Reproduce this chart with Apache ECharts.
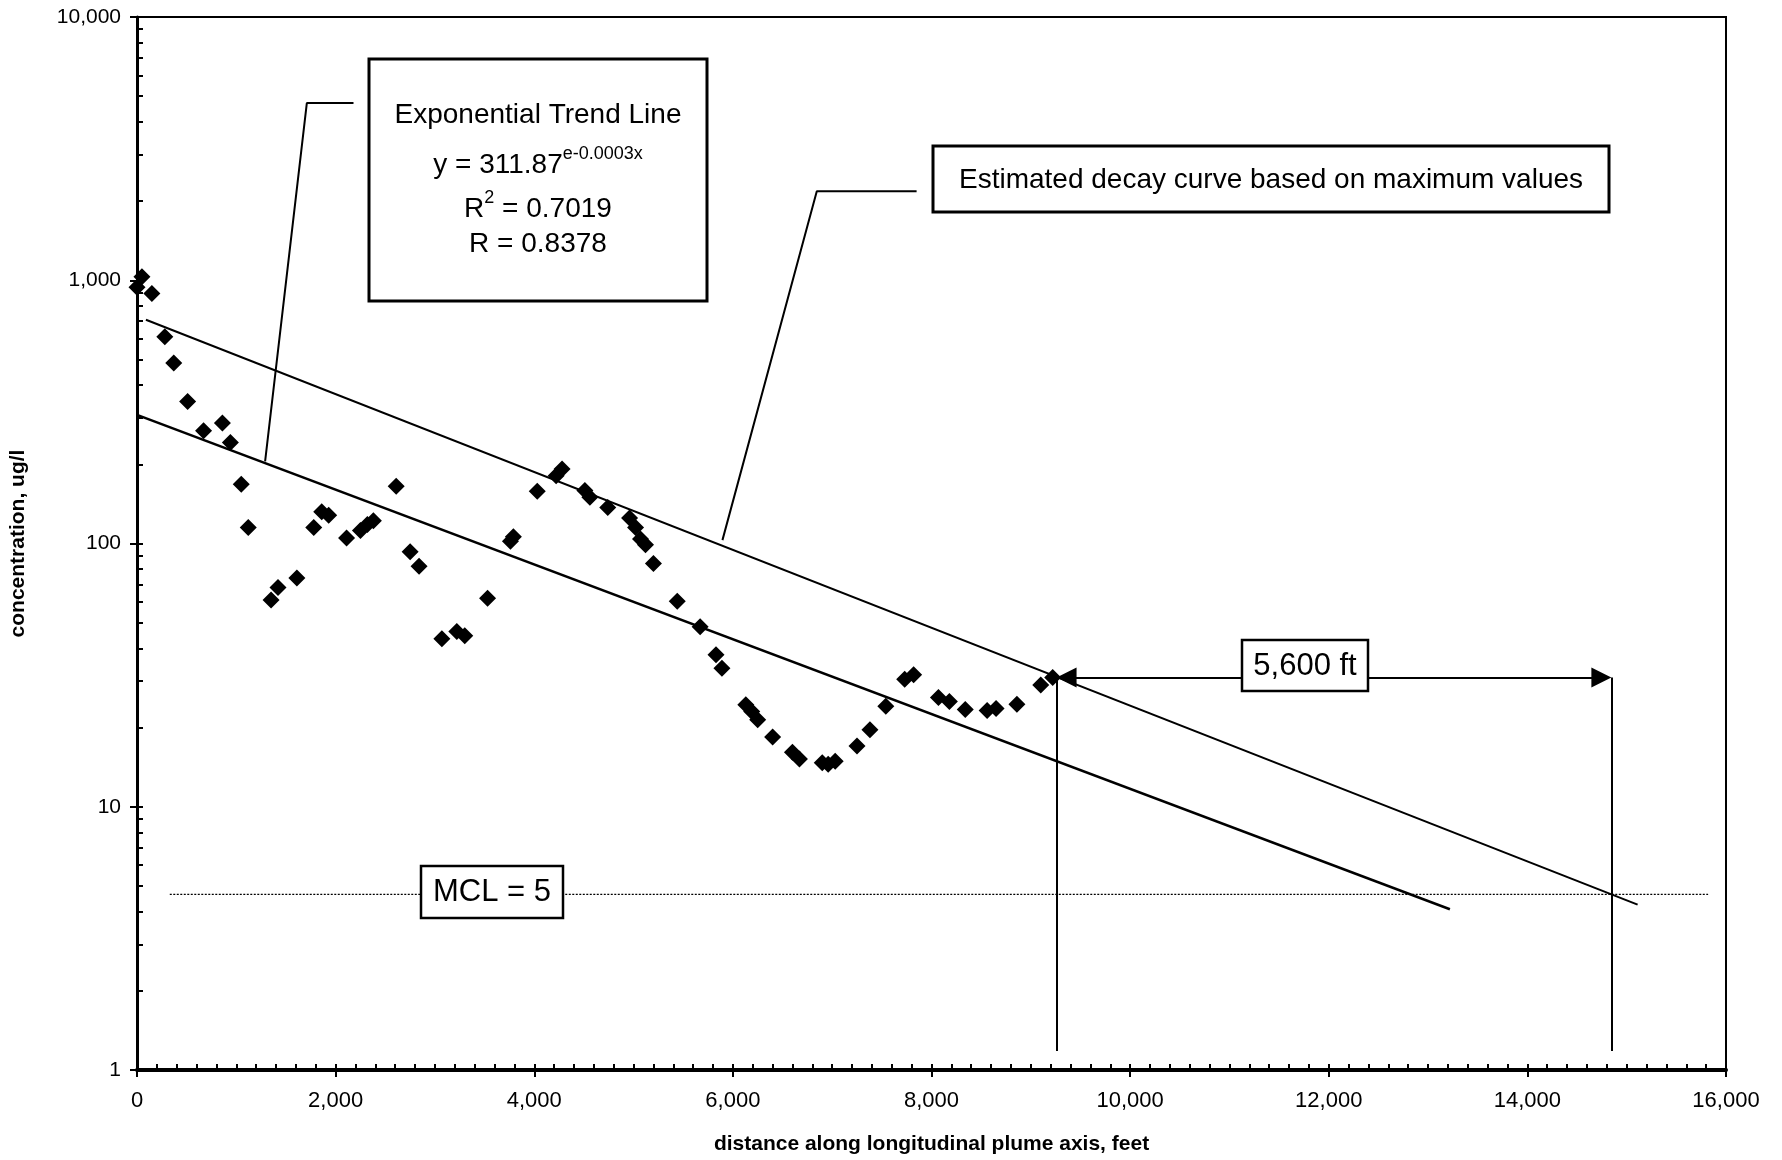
<!DOCTYPE html>
<html>
<head>
<meta charset="utf-8">
<style>
  html, body { margin: 0; padding: 0; background: #fff; }
  #chart { width: 1782px; height: 1160px; }
</style>
<script src="https://cdn.jsdelivr.net/npm/echarts@6/dist/echarts.min.js"></script>
</head>
<body>
<div id="chart"></div>
<script>
// sample points: distance along plume axis (ft) and concentration (ug/l)
const distFt = [0, 50, 150, 280, 370, 510, 670, 860, 940, 1050, 1120, 1350, 1420, 1610, 1780, 1860, 1930,
  2110, 2250, 2320, 2380, 2610, 2750, 2840, 3070, 3220, 3300, 3530, 3760, 3790, 4030, 4220, 4280, 4510,
  4560, 4740, 4960, 5020, 5070, 5120, 5200, 5440, 5670, 5830, 5890, 6130, 6190, 6250, 6400, 6600, 6670,
  6900, 6960, 7030, 7250, 7380, 7540, 7730, 7820, 8070, 8180, 8340, 8560, 8650, 8860, 9100, 9220];
const concUgL = [940, 1030, 890, 610, 485, 346, 268, 287, 242, 168, 115, 61, 68, 74, 115, 132, 128,
  105, 112, 118, 122, 165, 93, 82, 43.5, 46.3, 44.6, 62, 102, 106, 158, 181, 192, 159,
  150, 137, 125, 115, 104, 99, 84, 60.4, 48.3, 37.8, 33.6, 24.4, 23.0, 21.4, 18.4, 16.1, 15.2,
  14.7, 14.5, 14.9, 17.0, 19.6, 24.1, 30.5, 31.7, 26.0, 25.1, 23.4, 23.2, 23.6, 24.5, 29.0, 31.0];

// exponential trend line (end points as drawn)
const trendX = [0, 13220];
const trendY = [308, 4.08];

// estimated decay curve based on maximum values
const decayX = [90, 15110];
const decayY = [708, 4.25];

// MCL reference line
const mclX = [330, 15820];
const mclY = [4.65, 4.65];

// 5,600 ft span
const spanX = [9260, 14845];
const spanY = 31;
const spanFloor = 1.18;

// callout leader lines
const leaderTrend = [[2180, 4710], [1710, 4710], [1290, 205]];
const leaderDecay = [[7850, 2180], [6845, 2180], [5895, 103]];

const FONT = '"Liberation Sans", Arial, Helvetica, sans-serif';

function pairs(xs, ys) {
  return xs.map((x, i) => [x, ys[i]]);
}

function fmt(v) {
  return Number(v).toLocaleString('en-US');
}

const yMinor = [];
for (let d = 1; d < 10000; d *= 10) {
  for (let k = 1; k <= 9; k++) yMinor.push(k * d);
}
yMinor.push(10000);

const chart = echarts.init(document.getElementById('chart'), null, { renderer: 'canvas' });

const supRich = {
  a: { fontFamily: FONT, fontSize: 28, lineHeight: 34, verticalAlign: 'bottom' },
  s: { fontFamily: FONT, fontSize: 18, lineHeight: 34, verticalAlign: 'top', padding: [0, 0, 14, 0] }
};

const option = {
  animation: false,
  backgroundColor: '#fff',
  textStyle: { fontFamily: FONT, color: '#000' },
  grid: {
    left: 132, right: 56, top: 17, bottom: 87,
    show: true, borderColor: '#000', borderWidth: 2, backgroundColor: 'transparent'
  },
  xAxis: [
    {
      type: 'value', min: 0, max: 16000, interval: 2000,
      name: 'distance along longitudinal plume axis, feet',
      nameLocation: 'middle', nameGap: 64,
      nameTextStyle: { fontFamily: FONT, fontSize: 21, fontWeight: 'bold', color: '#000' },
      axisLine: { show: true, onZero: false, lineStyle: { color: '#000', width: 4 } },
      axisTick: { show: true, inside: false, length: 7, lineStyle: { color: '#000', width: 2 } },
      axisLabel: { fontFamily: FONT, fontSize: 22, color: '#000', margin: 20, formatter: fmt },
      splitLine: { show: false }
    },
    {
      type: 'value', min: 0, max: 16000, interval: 200, position: 'bottom', offset: 0,
      axisLine: { show: false },
      axisTick: { show: true, inside: true, length: 6, lineStyle: { color: '#000', width: 2 } },
      axisLabel: { show: false },
      splitLine: { show: false }
    }
  ],
  yAxis: [
    {
      type: 'log', logBase: 10, min: 1, max: 10000,
      name: 'concentration, ug/l',
      nameLocation: 'middle', nameGap: 108,
      nameTextStyle: { fontFamily: FONT, fontSize: 21, fontWeight: 'bold', color: '#000' },
      axisLine: { show: true, onZero: false, lineStyle: { color: '#000', width: 3 } },
      axisTick: { show: true, inside: false, length: 7, lineStyle: { color: '#000', width: 2 } },
      axisLabel: { fontFamily: FONT, fontSize: 21, color: '#000', margin: 16, formatter: fmt },
      splitLine: { show: false }
    },
    {
      type: 'log', logBase: 10, min: 1, max: 10000, position: 'left', offset: 0,
      axisLine: { show: false },
      axisTick: { show: true, inside: true, length: 6, customValues: yMinor, lineStyle: { color: '#000', width: 2 } },
      axisLabel: { show: false },
      splitLine: { show: false }
    }
  ],
  series: [
    {
      name: 'concentration', type: 'scatter',
      symbol: 'diamond', symbolSize: 17,
      itemStyle: { color: '#000', opacity: 1 },
      data: pairs(distFt, concUgL),
      z: 5
    },
    {
      name: 'trend', type: 'line', showSymbol: false, symbol: 'none',
      lineStyle: { color: '#000', width: 2.5 },
      data: pairs(trendX, trendY)
    },
    {
      name: 'decay', type: 'line', showSymbol: false, symbol: 'none',
      lineStyle: { color: '#000', width: 2 },
      data: pairs(decayX, decayY)
    },
    {
      name: 'MCL', type: 'line', showSymbol: false, symbol: 'none',
      lineStyle: { color: '#000', width: 1.2, type: [2, 1.5] },
      data: pairs(mclX, mclY)
    },
    {
      name: 'leaderTrend', type: 'line', showSymbol: false, symbol: 'none',
      lineStyle: { color: '#000', width: 2 },
      data: leaderTrend
    },
    {
      name: 'leaderDecay', type: 'line', showSymbol: false, symbol: 'none',
      lineStyle: { color: '#000', width: 2 },
      data: leaderDecay
    },
    {
      name: 'span', type: 'line', data: [],
      markLine: {
        silent: true, animation: false,
        label: { show: false },
        lineStyle: { color: '#000', width: 2, type: 'solid' },
        symbol: ['none', 'none'],
        data: [
          [{ coord: [spanX[0], spanFloor] }, { coord: [spanX[0], spanY] }],
          [{ coord: [spanX[1], spanFloor] }, { coord: [spanX[1], spanY] }],
          [
            { coord: [spanX[0] + 100, spanY], symbol: 'triangle', symbolSize: [20, 20] },
            { coord: [spanX[1] - 100, spanY], symbol: 'triangle', symbolSize: [20, 20] }
          ]
        ]
      }
    }
  ],
  graphic: [
    { type: 'rect', shape: { x: 369, y: 59, width: 338, height: 242 },
      style: { fill: '#fff', stroke: '#000', lineWidth: 3 }, z: 10 },
    { type: 'text', x: 538, y: 115, z: 11,
      style: { text: 'Exponential Trend Line', font: '28px ' + FONT, fill: '#000', align: 'center', verticalAlign: 'middle' } },
    { type: 'text', x: 538, y: 162, z: 11,
      style: { text: '{a|y = 311.87}{s|e-0.0003x}', align: 'center', verticalAlign: 'middle', fill: '#000', rich: supRich } },
    { type: 'text', x: 538, y: 206, z: 11,
      style: { text: '{a|R}{s|2}{a| = 0.7019}', align: 'center', verticalAlign: 'middle', fill: '#000', rich: supRich } },
    { type: 'text', x: 538, y: 244, z: 11,
      style: { text: 'R = 0.8378', font: '28px ' + FONT, fill: '#000', align: 'center', verticalAlign: 'middle' } },

    { type: 'rect', shape: { x: 933, y: 146, width: 676, height: 66 },
      style: { fill: '#fff', stroke: '#000', lineWidth: 3 }, z: 10 },
    { type: 'text', x: 1271, y: 180, z: 11,
      style: { text: 'Estimated decay curve based on maximum values', font: '28px ' + FONT, fill: '#000', align: 'center', verticalAlign: 'middle' } },

    { type: 'rect', shape: { x: 421, y: 866, width: 142, height: 52 },
      style: { fill: '#fff', stroke: '#000', lineWidth: 2.5 }, z: 10 },
    { type: 'text', x: 492, y: 892, z: 11,
      style: { text: 'MCL = 5', font: '31px ' + FONT, fill: '#000', align: 'center', verticalAlign: 'middle' } },

    { type: 'rect', shape: { x: 1242, y: 640, width: 126, height: 51 },
      style: { fill: '#fff', stroke: '#000', lineWidth: 2.5 }, z: 10 },
    { type: 'text', x: 1305, y: 666, z: 11,
      style: { text: '5,600 ft', font: '31px ' + FONT, fill: '#000', align: 'center', verticalAlign: 'middle' } }
  ]
};

chart.setOption(option);
</script>
</body>
</html>
